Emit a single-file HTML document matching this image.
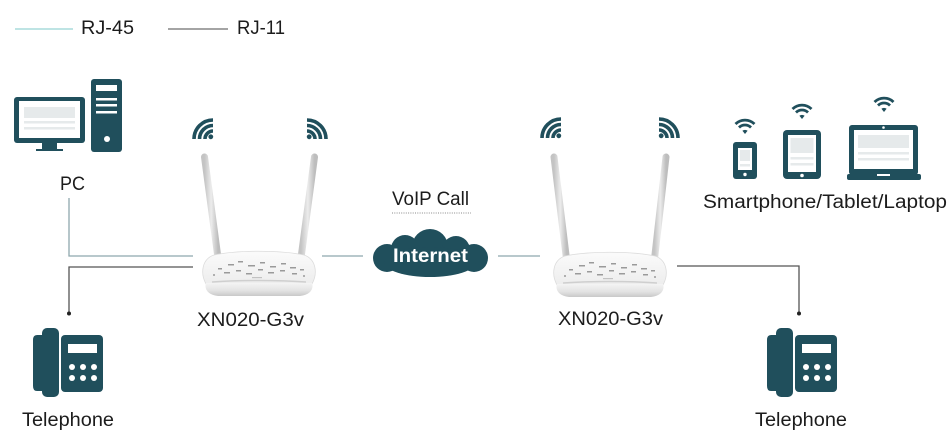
<!DOCTYPE html>
<html><head><meta charset="utf-8">
<style>
html,body{margin:0;padding:0;background:#fff;}
svg{display:block;}
text{font-family:"Liberation Sans",Arial,sans-serif;fill:#1c1c1c;}
</style></head>
<body>
<svg width="950" height="446" viewBox="0 0 950 446" xmlns="http://www.w3.org/2000/svg">
<defs>
  <linearGradient id="ant" x1="0" y1="0" x2="1" y2="0">
    <stop offset="0" stop-color="#c4c4c4"/>
    <stop offset="0.5" stop-color="#ececec"/>
    <stop offset="1" stop-color="#bdbdbd"/>
  </linearGradient>
  <linearGradient id="top" x1="0" y1="0" x2="0" y2="1">
    <stop offset="0" stop-color="#fbfbfb"/>
    <stop offset="1" stop-color="#ededed"/>
  </linearGradient>
  <linearGradient id="front" x1="0" y1="0" x2="0" y2="1">
    <stop offset="0" stop-color="#f4f4f4"/>
    <stop offset="0.6" stop-color="#e2e2e2"/>
    <stop offset="1" stop-color="#c9c9c9"/>
  </linearGradient>
  <g id="router">
    <path d="M6,33 C0,22 2,8 14,4 C38,-1 80,-1 104,4 C116,8 118,22 112,33 Z" fill="url(#top)" stroke="#dcdcdc" stroke-width="0.8"/>
    <path d="M6,32 L112,32 C114,38 110,44 100,45 L18,45 C8,44 4,38 6,32 Z" fill="url(#front)"/>
    <path d="M12,31 C40,29 78,29 106,31" stroke="#cfcfcf" stroke-width="1.5" fill="none"/>
    <g fill="#9a9a9a">
      <rect x="18" y="17" width="4" height="1.5"/><rect x="28" y="13" width="6" height="1.5"/>
      <rect x="38" y="10" width="5" height="1.5"/><rect x="48" y="14" width="7" height="1.5"/>
      <rect x="60" y="11" width="5" height="1.5"/><rect x="70" y="15" width="6" height="1.5"/>
      <rect x="81" y="12" width="5" height="1.5"/><rect x="90" y="16" width="6" height="1.5"/>
      <rect x="24" y="21" width="6" height="1.5"/><rect x="36" y="19" width="5" height="1.5"/>
      <rect x="46" y="22" width="6" height="1.5"/><rect x="58" y="18" width="5" height="1.5"/>
      <rect x="68" y="21" width="6" height="1.5"/><rect x="80" y="19" width="5" height="1.5"/>
      <rect x="92" y="22" width="5" height="1.5"/><rect x="100" y="18" width="4" height="1.5"/>
      <circle cx="14" cy="24" r="1"/><circle cx="104" cy="25" r="1"/>
      <rect x="52" y="26" width="10" height="1.2" fill="#c2c2c2"/>
    </g>
  </g>
  <g id="wq">
    <circle cx="-2.2" cy="-2.2" r="2.4" fill="#204f5c"/>
    <path d="M-8,0 A8,8 0 0 1 0,-8" stroke="#204f5c" stroke-width="3.6" fill="none"/>
    <path d="M-13.5,0 A13.5,13.5 0 0 1 0,-13.5" stroke="#204f5c" stroke-width="3.6" fill="none"/>
    <path d="M-19,0 A19,19 0 0 1 0,-19" stroke="#204f5c" stroke-width="3.6" fill="none"/>
  </g>
  <g id="wf">
    <path d="M-2.6,-3.2 L0,0 L2.6,-3.2 A4,4 0 0 0 -2.6,-3.2 Z" fill="#204f5c"/>
    <path d="M-6,-6.5 A8.5,8.5 0 0 1 6,-6.5" stroke="#204f5c" stroke-width="2.8" fill="none"/>
    <path d="M-9.5,-10 A13.5,13.5 0 0 1 9.5,-10" stroke="#204f5c" stroke-width="2.8" fill="none"/>
  </g>
  <g id="phone">
    <rect x="42" y="328" width="17" height="69" rx="5" fill="#204f5c"/>
    <path d="M42,335 L37,335 Q33,335 33,340 L33,386 Q33,391 37,391 L42,391 Z" fill="#204f5c"/>
    <rect x="61" y="335" width="42" height="57" rx="4" fill="#204f5c"/>
    <rect x="68" y="344" width="29" height="9" fill="#fff"/>
    <g fill="#fff">
      <circle cx="72" cy="367" r="3"/><circle cx="83" cy="367" r="3"/><circle cx="94" cy="367" r="3"/>
      <circle cx="72" cy="378" r="3"/><circle cx="83" cy="378" r="3"/><circle cx="94" cy="378" r="3"/>
    </g>
  </g>
</defs>

<!-- legend -->
<line x1="15" y1="29" x2="73" y2="29" stroke="#a9dcdc" stroke-width="1.5"/>
<text x="81" y="34" font-size="19" textLength="53" lengthAdjust="spacingAndGlyphs">RJ-45</text>
<line x1="168" y1="29" x2="228" y2="29" stroke="#858585" stroke-width="1.5"/>
<text x="237" y="34" font-size="19" textLength="48" lengthAdjust="spacingAndGlyphs">RJ-11</text>

<!-- PC -->
<rect x="14" y="97" width="71" height="46" rx="3" fill="#204f5c"/>
<rect x="19" y="101" width="61" height="37" fill="#fff"/>
<rect x="24" y="107" width="51" height="11" fill="#e6eaeb"/>
<rect x="24" y="121" width="51" height="2.5" fill="#e6eaeb"/>
<rect x="24" y="127" width="51" height="2.5" fill="#e6eaeb"/>
<rect x="42" y="143" width="15" height="6" fill="#204f5c"/>
<rect x="36" y="149" width="27" height="2" fill="#204f5c"/>
<rect x="91" y="79" width="31" height="73" rx="3" fill="#204f5c"/>
<rect x="96" y="85" width="21" height="6" fill="#fff"/>
<rect x="96" y="98" width="21" height="2.5" fill="#fff"/>
<rect x="96" y="104" width="21" height="2.5" fill="#fff"/>
<rect x="96" y="111" width="21" height="2.5" fill="#fff"/>
<circle cx="107" cy="139" r="3" fill="#fff"/>
<text x="60" y="190" font-size="19" textLength="25" lengthAdjust="spacingAndGlyphs">PC</text>

<!-- left connectors -->
<polyline points="69,198 69,256 193,256" fill="none" stroke="#8ea8ad" stroke-width="1.3"/>
<polyline points="193,267 69,267 69,313" fill="none" stroke="#555" stroke-width="1.3"/>
<circle cx="69" cy="313.5" r="2" fill="#222"/>

<!-- left phone -->
<use href="#phone"/>
<text x="22" y="426" font-size="19" textLength="92" lengthAdjust="spacingAndGlyphs">Telephone</text>

<!-- left router -->
<line x1="204.5" y1="157" x2="218" y2="258" stroke="url(#ant)" stroke-width="7" stroke-linecap="round"/>
<line x1="314.5" y1="157" x2="301" y2="258" stroke="url(#ant)" stroke-width="7" stroke-linecap="round"/>
<use href="#router" x="200" y="251"/>
<use href="#wq" x="213" y="139"/>
<use href="#wq" transform="translate(307,139) scale(-1,1)"/>
<text x="197" y="326" font-size="19" textLength="107" lengthAdjust="spacingAndGlyphs">XN020-G3v</text>

<!-- to internet -->
<line x1="322" y1="256" x2="363" y2="256" stroke="#8ea8ad" stroke-width="1.3"/>
<line x1="498" y1="256" x2="540" y2="256" stroke="#8ea8ad" stroke-width="1.3"/>

<!-- VoIP -->
<text x="392" y="205" font-size="19" textLength="77" lengthAdjust="spacingAndGlyphs">VoIP Call</text>
<line x1="392" y1="213" x2="471" y2="213" stroke="#8a8a8a" stroke-width="1" stroke-dasharray="1,1.3"/>

<!-- cloud -->
<g fill="#204f5c">
  <circle cx="430" cy="247" r="18"/>
  <circle cx="405" cy="249" r="14"/>
  <circle cx="456" cy="250" r="14"/>
  <circle cx="387" cy="258" r="14"/>
  <circle cx="474" cy="258" r="14"/>
  <ellipse cx="430" cy="262" rx="46" ry="15"/>
</g>
<text x="393" y="262" font-size="19" font-weight="bold" style="fill:#fff" textLength="75" lengthAdjust="spacingAndGlyphs">Internet</text>

<!-- right router -->
<line x1="554" y1="157" x2="566.5" y2="259" stroke="url(#ant)" stroke-width="7" stroke-linecap="round"/>
<line x1="666" y1="157" x2="654.5" y2="259" stroke="url(#ant)" stroke-width="7" stroke-linecap="round"/>
<use href="#router" x="551" y="252"/>
<use href="#wq" x="561" y="138"/>
<use href="#wq" transform="translate(659,138) scale(-1,1)"/>
<text x="558" y="325" font-size="19" textLength="105" lengthAdjust="spacingAndGlyphs">XN020-G3v</text>

<!-- right connector -->
<polyline points="677,266 799,266 799,313" fill="none" stroke="#555" stroke-width="1.3"/>
<circle cx="799" cy="313.5" r="2" fill="#222"/>

<!-- right phone -->
<use href="#phone" x="734"/>
<text x="755" y="426" font-size="19" textLength="92" lengthAdjust="spacingAndGlyphs">Telephone</text>

<!-- devices -->
<use href="#wf" x="745" y="134"/>
<rect x="733" y="142" width="24" height="37" rx="3" fill="#204f5c"/>
<rect x="738" y="148" width="14" height="22" fill="#fff"/>
<rect x="740" y="150" width="10" height="11" fill="#e6eaeb"/>
<rect x="740" y="164" width="10" height="2.5" fill="#e6eaeb"/>
<circle cx="745" cy="174.5" r="1.7" fill="#fff"/>

<use href="#wf" x="802" y="119"/>
<rect x="783" y="130" width="38" height="49" rx="4" fill="#204f5c"/>
<rect x="788" y="135" width="28" height="37" fill="#fff"/>
<rect x="790.5" y="138" width="23" height="15" fill="#e6eaeb"/>
<rect x="790.5" y="157" width="23" height="2.5" fill="#e6eaeb"/>
<rect x="790.5" y="163" width="23" height="2.5" fill="#e6eaeb"/>
<circle cx="802" cy="175.5" r="1.8" fill="#fff"/>

<use href="#wf" x="884" y="112"/>
<rect x="849" y="125" width="69" height="50" rx="3" fill="#204f5c"/>
<rect x="854" y="130" width="59" height="39" fill="#fff"/>
<rect x="858" y="135" width="51" height="13" fill="#e6eaeb"/>
<rect x="858" y="152" width="51" height="2.5" fill="#e6eaeb"/>
<rect x="858" y="158" width="51" height="2.5" fill="#e6eaeb"/>
<circle cx="883.5" cy="127.5" r="1.3" fill="#fff"/>
<rect x="847" y="174" width="74" height="6" rx="2" fill="#204f5c"/>
<rect x="877" y="174" width="13" height="2" fill="#fff"/>
<text x="703" y="208" font-size="19" textLength="244" lengthAdjust="spacingAndGlyphs">Smartphone/Tablet/Laptop</text>
</svg>
</body></html>
